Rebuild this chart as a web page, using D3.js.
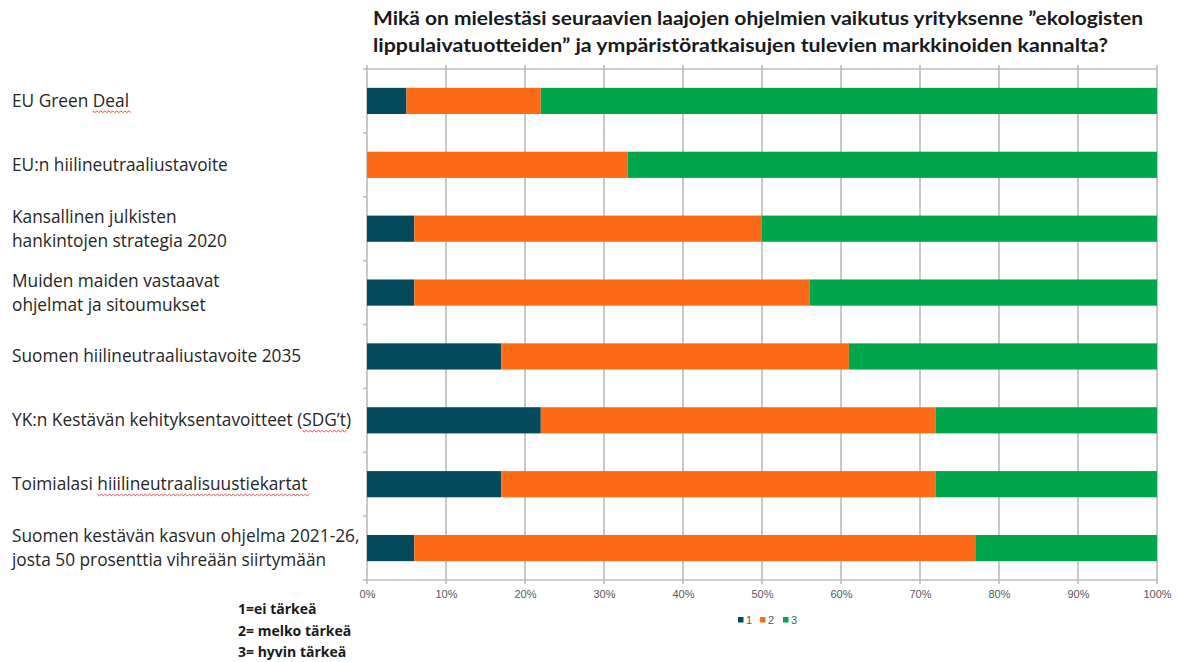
<!DOCTYPE html>
<html>
<head>
<meta charset="utf-8">
<script src="https://cdn.jsdelivr.net/npm/d3@7"></script>
<style>
  html, body { margin: 0; padding: 0; background: #fff; }
  svg { display: block; }
</style>
</head>
<body>
<svg id="chart" width="1180" height="662"></svg>
<script>
// Survey programmes (each label may wrap onto two lines)
const categories = [
  ["EU Green Deal"],
  ["EU:n hiilineutraaliustavoite"],
  ["Kansallinen julkisten", "hankintojen strategia 2020"],
  ["Muiden maiden vastaavat", "ohjelmat ja sitoumukset"],
  ["Suomen hiilineutraaliustavoite 2035"],
  ["YK:n Kestävän kehityksentavoitteet (SDG’t)"],
  ["Toimialasi hiiilineutraalisuustiekartat"],
  ["Suomen kestävän kasvun ohjelma 2021-26,", "josta 50 prosenttia vihreään siirtymään"]
];

// Share of answers per importance level (percent)
const series1 = [5, 0, 6, 6, 17, 22, 17, 6];      // 1 = ei tärkeä
const series2 = [17, 33, 44, 50, 44, 50, 55, 71]; // 2 = melko tärkeä
const series3 = [78, 67, 50, 44, 39, 28, 28, 23]; // 3 = hyvin tärkeä

const seriesNames = ["1", "2", "3"];
const seriesColors = ["#034b5a", "#fd6a18", "#00a64b"];

const tickValues = [0, 10, 20, 30, 40, 50, 60, 70, 80, 90, 100];

const titleLines = [
  "Mikä on mielestäsi seuraavien laajojen ohjelmien vaikutus yrityksenne ”ekologisten",
  "lippulaivatuotteiden” ja ympäristöratkaisujen tulevien markkinoiden kannalta?"
];

const scaleNotes = ["1=ei tärkeä", "2= melko tärkeä", "3= hyvin tärkeä"];

// Words flagged by the spell checker in the labels: [category index, line, word]
const spellMarks = [[0, 0, "Deal"], [5, 0, "SDG’t"], [6, 0, "hiiilineutraalisuustiekartat"]];

const svg = d3.select("#chart");
const labelFont = "'Open Sans', Lato, sans-serif";
const tickFont = "'Liberation Sans', Arial, sans-serif";

const margin = { left: 367, right: 23, top: 69, bottom: 82 };
const W = 1180, H = 662;
const plotW = W - margin.left - margin.right;
const plotH = H - margin.top - margin.bottom;

const x = d3.scaleLinear().domain([0, 100]).range([0, plotW]);
const y = d3.scaleBand().domain(d3.range(categories.length)).range([0, plotH])
  .paddingInner(0.59).paddingOuter(0.295);

const rows = categories.map((c, i) => ({ i, v: [series1[i], series2[i], series3[i]] }));
const stacked = d3.stack().keys([0, 1, 2]).value((d, k) => d.v[k])(rows);

const g = svg.append("g").attr("transform", `translate(${margin.left},${margin.top})`);

// Vertical gridlines (extending a little past the top and bottom axes)
g.append("g").selectAll("line").data(tickValues).join("line")
  .attr("x1", d => x(d)).attr("x2", d => x(d))
  .attr("y1", -4).attr("y2", plotH + 4)
  .attr("stroke", "#c8c8c8").attr("stroke-width", 2);

// Top and bottom axis lines
[0, plotH].forEach(yy => {
  g.append("line").attr("x1", -2).attr("x2", plotW).attr("y1", yy).attr("y2", yy)
    .attr("stroke", "#bdbdbd").attr("stroke-width", 1.5);
});

// Left category axis with ticks between categories
const bandStep = plotH / categories.length;
g.append("g").selectAll("line").data(d3.range(categories.length + 1)).join("line")
  .attr("x1", -4).attr("x2", 0)
  .attr("y1", d => d * bandStep).attr("y2", d => d * bandStep)
  .attr("stroke", "#bdbdbd").attr("stroke-width", 1.5);

// Stacked bars
g.append("g").selectAll("g").data(stacked).join("g")
  .attr("fill", (d, k) => seriesColors[k])
  .selectAll("rect").data(d => d).join("rect")
  .attr("x", d => x(d[0]))
  .attr("width", d => x(d[1]) - x(d[0]))
  .attr("y", d => y(d.data.i))
  .attr("height", y.bandwidth());

// Percent tick labels
const xAxis = d3.axisBottom(x).tickValues(tickValues).tickFormat(d => d + "%").tickSize(0).tickPadding(10);
const xa = g.append("g").attr("transform", `translate(0,${plotH})`).call(xAxis);
xa.select(".domain").remove();
xa.selectAll("text").attr("font-family", tickFont).attr("font-size", 11).attr("fill", "#595959");

// Category labels
const labels = svg.append("g").attr("font-family", labelFont).attr("font-size", 17.3).attr("fill", "#262626");
const lineGap = 24;
categories.forEach((lines, i) => {
  const cy = margin.top + y(i) + y.bandwidth() / 2;
  lines.forEach((txt, j) => {
    const ly = cy + (j - (lines.length - 1) / 2) * lineGap;
    const t = labels.append("text").attr("x", 12).attr("y", ly).attr("dy", "0.35em").text(txt);
    spellMarks.filter(m => m[0] === i && m[1] === j).forEach(m => {
      const idx = txt.indexOf(m[2]);
      const node = t.node();
      const x0 = 12 + (idx > 0 ? node.getSubStringLength(0, idx) : 0);
      const x1 = x0 + node.getSubStringLength(idx, m[2].length);
      const base = ly + 10;
      let p = `M${x0},${base}`;
      for (let xx = x0, k = 0; xx < x1; xx += 2, k++) p += `L${xx + 2},${base + (k % 2 ? 0 : 1.6)}`;
      labels.append("path").attr("d", p).attr("fill", "none").attr("stroke", "#e0393e").attr("stroke-width", 0.9);
    });
  });
});

// Title
const titleWidths = [770, 735];
svg.append("g").selectAll("text").data(titleLines).join("text")
  .attr("x", 373).attr("y", (d, i) => 25 + i * 27)
  .attr("font-family", "Lato, 'Open Sans', sans-serif").attr("font-weight", "bold")
  .attr("font-size", 18.5).attr("fill", "#1a1a1a")
  .attr("textLength", (d, i) => titleWidths[i]).attr("lengthAdjust", "spacingAndGlyphs")
  .text(d => d);

// Legend
const legend = svg.append("g").attr("font-family", tickFont).attr("font-size", 11).attr("fill", "#595959");
const legendX = [738, 760, 783];
seriesNames.forEach((name, k) => {
  legend.append("rect").attr("x", legendX[k]).attr("y", 617).attr("width", 5.5).attr("height", 5.5).attr("fill", seriesColors[k]);
  legend.append("text").attr("x", legendX[k] + 8).attr("y", 620).attr("dy", "0.35em").text(name);
});

// Scale explanation
svg.append("g").selectAll("text").data(scaleNotes).join("text")
  .attr("x", 238).attr("y", (d, i) => 614 + i * 21.5)
  .attr("font-family", "'Open Sans', Lato, sans-serif").attr("font-weight", "bold")
  .attr("font-size", 14).attr("fill", "#1a1a1a")
  .text(d => d);
</script>
</body>
</html>
